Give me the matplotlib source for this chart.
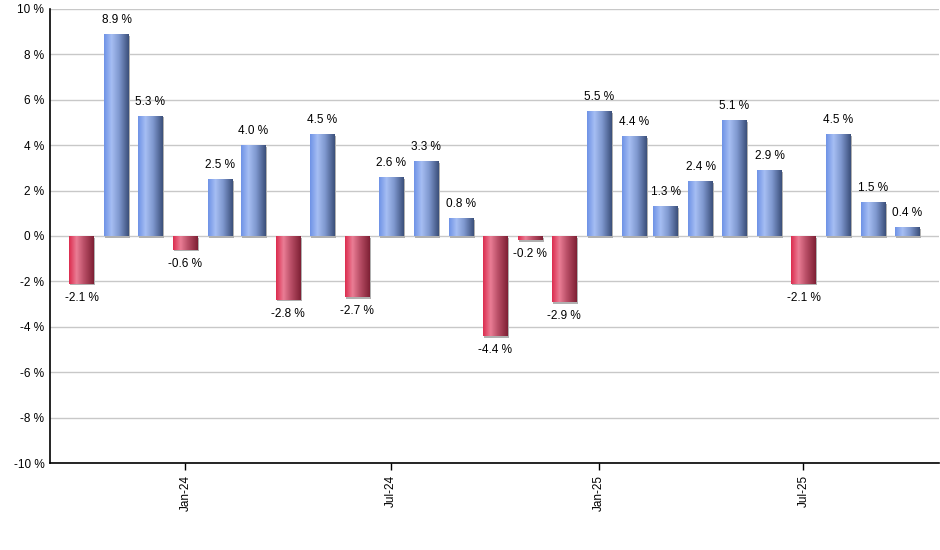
import numpy as np
import matplotlib
matplotlib.use("Agg")
import matplotlib.pyplot as plt
import matplotlib.dates as mdates
from matplotlib.colors import LinearSegmentedColormap
from datetime import date, timedelta

plt.rcParams['font.family'] = ['Liberation Sans', 'DejaVu Sans']

# rendimientos mensuales (%)
meses = ["2023-10", "2023-11", "2023-12", "2024-01", "2024-02", "2024-03", "2024-04",
         "2024-05", "2024-06", "2024-07", "2024-08", "2024-09", "2024-10", "2024-11",
         "2024-12", "2025-01", "2025-02", "2025-03", "2025-04", "2025-05", "2025-06",
         "2025-07", "2025-08", "2025-09", "2025-10"]
valores = [-2.1, 8.9, 5.3, -0.6, 2.5, 4.0, -2.8, 4.5, -2.7, 2.6, 3.3, 0.8, -4.4, -0.2,
           -2.9, 5.5, 4.4, 1.3, 2.4, 5.1, 2.9, -2.1, 4.5, 1.5, 0.4]
ticks = ["2024-01", "2024-07", "2025-01", "2025-07"]

fechas = [date(int(m[:4]), int(m[5:]), 1) for m in meses]
x = mdates.date2num(fechas)

azul = LinearSegmentedColormap.from_list("azul", ["#6e92e6", "#a6bef3", "#7f98cf", "#3b4f7a"])
rojo = LinearSegmentedColormap.from_list("rojo", ["#dc2c4e", "#ea7d95", "#b84e66", "#7e2034"])
grad = np.linspace(0, 1, 256).reshape(1, -1)
grad = np.interp(grad, [0, 0.3, 0.6, 1], [0, 0.33, 0.66, 1])

fig, ax = plt.subplots(figsize=(9.4, 5.5), dpi=100)
fig.subplots_adjust(left=0.053, right=0.999, top=0.984, bottom=0.158)

ancho = 22
barras = ax.bar(x, valores, width=ancho, color="none", edgecolor="none", zorder=3)
for b, v in zip(barras, valores):
    x0, y0 = b.get_x(), b.get_y()
    w, h = b.get_width(), b.get_height()
    # sombra
    ax.bar(x0 + w / 2 + 1.2, h, width=w, bottom=y0 - 0.08, color="#b0b0b0", zorder=2)
    im = ax.imshow(grad, cmap=azul if v >= 0 else rojo, aspect="auto",
                   extent=(x0, x0 + w, min(y0, y0 + h), max(y0, y0 + h)), zorder=3)
    im.set_clip_path(b)
    if v >= 0:
        ax.text(x0 + w / 2, v + 0.35, f"{v} %", ha="center", va="bottom", fontsize=8.5)
    else:
        ax.text(x0 + w / 2, v - 0.35, f"{v} %", ha="center", va="top", fontsize=8.5)

ax.set_xlim(mdates.date2num(date(2023, 9, 3)), mdates.date2num(date(2025, 10, 29)))
ax.set_ylim(-10, 10)
ax.set_yticks(range(-10, 11, 2))
ax.set_yticklabels([f"{t} %" for t in range(-10, 11, 2)], fontsize=8.5)
tk = [mdates.date2num(date(int(t[:4]), int(t[5:]), 1)) for t in ticks]
ax.set_xticks(tk)
ax.set_xticklabels([date(int(t[:4]), int(t[5:]), 1).strftime("%b-%y") for t in ticks],
                   rotation=90, fontsize=8.5)
ax.tick_params(axis="y", length=0, pad=4)
ax.tick_params(axis="x", length=5, direction="out", width=1)
ax.grid(axis="y", color="#c8c8c8", linewidth=1, zorder=0)
for s in ["top", "right"]:
    ax.spines[s].set_visible(False)
ax.spines["left"].set_linewidth(1.2)
ax.spines["bottom"].set_linewidth(1.2)
ax.set_axisbelow(True)

fig.savefig("out.png")
